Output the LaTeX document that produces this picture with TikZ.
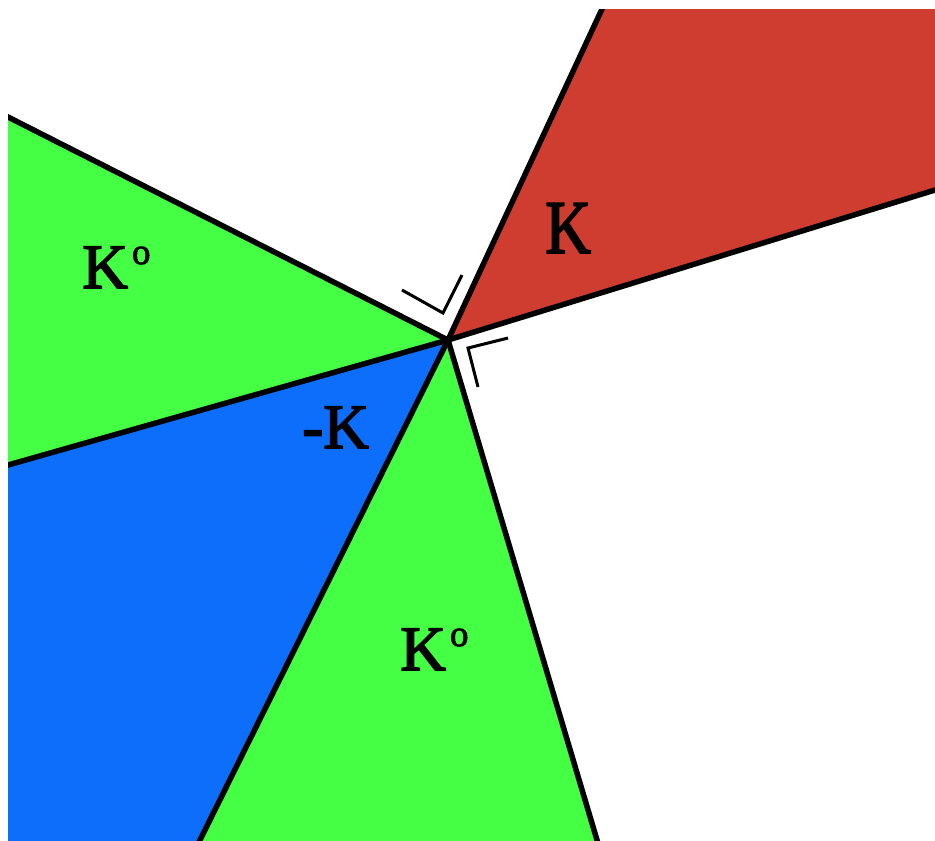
\documentclass[tikz,border=0pt]{standalone}
\usepackage{fontspec}
\setmainfont{Liberation Serif}
\newfontfamily\lblfont[FakeBold=2.5]{Liberation Serif}
\usepackage{tikz}
\usetikzlibrary{calc}

\definecolor{conered}{RGB}{206,61,48}
\definecolor{polargreen}{RGB}{68,255,68}
\definecolor{negblue}{RGB}{12,110,250}

\newcommand{\polarsup}{\kern0.08cm\raisebox{0.48cm}{\fontsize{21}{21}\selectfont o}}

\begin{document}
\begin{tikzpicture}[
    x=0.02cm, y=-0.02cm,
    rim/.style={line width=0.11cm, black, line cap=round},
    rightangle/.style={line width=0.06cm, black},
    lbl/.style={font=\lblfont\fontsize{36}{40}\selectfont, inner sep=0pt, anchor=base west}
  ]
  \useasboundingbox (0,0) rectangle (935,840);

  % apex and the six rays
  \coordinate (O) at (448,340);
  \coordinate (A) at ($(O)!1.1!(602,9)$);    % K, upper ray
  \coordinate (B) at ($(O)!1.1!(935,190)$);  % K, right ray
  \coordinate (P1) at ($(O)!1.1!(8,117)$);
  \coordinate (P2) at ($(O)!1.1!(8,465)$);
  \coordinate (P3) at ($(O)!1.1!(200,840)$);
  \coordinate (P4) at ($(O)!1.1!(597,840)$);

  \begin{scope}
    \clip (8,9) rectangle (935,840);
    \fill[conered] (O) -- (A) -- (1000,-40) -- (B) -- cycle;
    \fill[polargreen] (O) -- (P1) -- (P2) -- cycle;
    \fill[negblue] (O) -- (P2) -- (-40,900) -- (P3) -- cycle;
    \fill[polargreen] (O) -- (P3) -- (P4) -- cycle;
    \foreach \p in {A,B,P1,P2,P3,P4}
      \draw[rim] (O) -- (\p);
  \end{scope}

  % right angle marks
  \draw[rightangle] (402,290) -- (443,313) -- (462,275);
  \draw[rightangle] (508,338) -- (468,348) -- (478,387);

  \node[lbl, yscale=1.2] (Klbl) at (545,253) {K};
  \node[lbl] (polarup) at (82,288) {K\polarsup};
  \node[lbl] (negK) at (302,448) {-K};
  \node[lbl] (polardown) at (400,670) {K\polarsup};
\end{tikzpicture}
\end{document}
